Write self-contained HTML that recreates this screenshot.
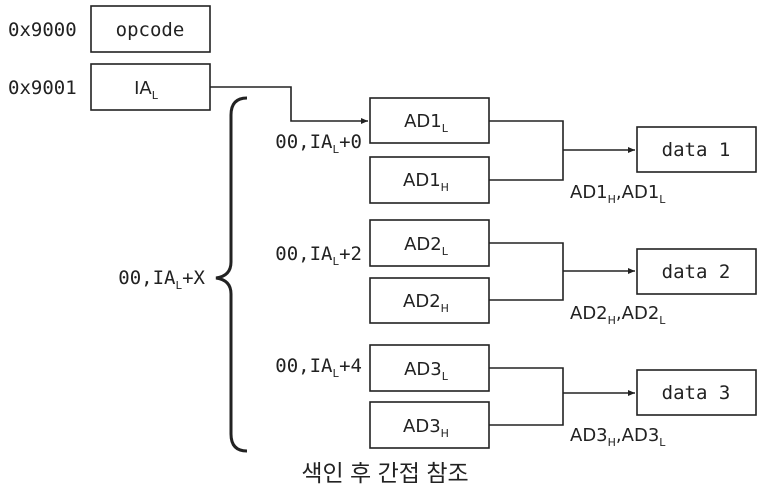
<!DOCTYPE html>
<html><head><meta charset="utf-8"><style>
html,body{margin:0;padding:0;background:#fff;}
svg{display:block}
.m{font-family:"DejaVu Sans Mono","Liberation Mono",monospace;font-size:19px;fill:#222}
.s{font-family:"DejaVu Sans","Liberation Sans",sans-serif;font-size:18px;fill:#222}
.sub{font-size:11px}
rect{fill:#fff;stroke:#222;stroke-width:1.6}
.l{fill:none;stroke:#222;stroke-width:1.6}
</style></head><body>
<svg width="766" height="499" viewBox="0 0 766 499">
<defs><marker id="a" markerWidth="8" markerHeight="8" refX="7" refY="4" orient="auto" markerUnits="userSpaceOnUse"><path d="M0,1 L7,4 L0,7z" fill="#222"/></marker></defs>
<text class="m" x="8" y="36">0x9000</text>
<text class="m" x="8" y="94">0x9001</text>
<rect x="91" y="6" width="119" height="46"/>
<text class="m" x="150" y="36" text-anchor="middle">opcode</text>
<rect x="91" y="64" width="119" height="46"/>
<text class="s" x="146" y="94" text-anchor="middle">IA<tspan class="sub" dy="5">L</tspan></text>
<path class="l" d="M210,87 H291 V121 H368" marker-end="url(#a)"/>
<path class="l" style="stroke-width:3" d="M247,98 Q231,98 231,115 V262 Q231,276 216,278 Q231,280 231,294 V434 Q231,451 247,451"/>
<text class="m" x="205" y="284" text-anchor="end">00,IA<tspan class="sub" dy="5">L</tspan><tspan dy="-5">+X</tspan></text>
<g>
<rect x="370" y="98" width="119" height="45"/><text class="s" x="426" y="127" text-anchor="middle">AD1<tspan class="sub" dy="5">L</tspan></text>
<rect x="370" y="157" width="119" height="46"/><text class="s" x="426" y="186" text-anchor="middle">AD1<tspan class="sub" dy="5">H</tspan></text>
<text class="m" x="362" y="148" text-anchor="end">00,IA<tspan class="sub" dy="5">L</tspan><tspan dy="-5">+0</tspan></text>
<path class="l" d="M489,121 H563 V180 H489 M563,150 H635" marker-end="url(#a)"/>
<rect x="637" y="127" width="119" height="45"/><text class="m" x="696" y="156" text-anchor="middle">data 1</text>
<text class="s" x="570" y="198">AD1<tspan class="sub" dy="5">H</tspan><tspan dy="-5">,AD1</tspan><tspan class="sub" dy="5">L</tspan></text>
</g>
<g>
<rect x="370" y="220" width="119" height="46"/><text class="s" x="426" y="250" text-anchor="middle">AD2<tspan class="sub" dy="5">L</tspan></text>
<rect x="370" y="278" width="119" height="45"/><text class="s" x="426" y="307" text-anchor="middle">AD2<tspan class="sub" dy="5">H</tspan></text>
<text class="m" x="362" y="260" text-anchor="end">00,IA<tspan class="sub" dy="5">L</tspan><tspan dy="-5">+2</tspan></text>
<path class="l" d="M489,243 H563 V300 H489 M563,271 H635" marker-end="url(#a)"/>
<rect x="637" y="249" width="119" height="45"/><text class="m" x="696" y="278" text-anchor="middle">data 2</text>
<text class="s" x="570" y="319">AD2<tspan class="sub" dy="5">H</tspan><tspan dy="-5">,AD2</tspan><tspan class="sub" dy="5">L</tspan></text>
</g>
<g>
<rect x="370" y="345" width="119" height="46"/><text class="s" x="426" y="375" text-anchor="middle">AD3<tspan class="sub" dy="5">L</tspan></text>
<rect x="370" y="402" width="119" height="46"/><text class="s" x="426" y="432" text-anchor="middle">AD3<tspan class="sub" dy="5">H</tspan></text>
<text class="m" x="362" y="372" text-anchor="end">00,IA<tspan class="sub" dy="5">L</tspan><tspan dy="-5">+4</tspan></text>
<path class="l" d="M489,368 H563 V425 H489 M563,393 H635" marker-end="url(#a)"/>
<rect x="637" y="370" width="119" height="45"/><text class="m" x="696" y="399" text-anchor="middle">data 3</text>
<text class="s" x="570" y="441">AD3<tspan class="sub" dy="5">H</tspan><tspan dy="-5">,AD3</tspan><tspan class="sub" dy="5">L</tspan></text>
</g>
<text x="385" y="481" text-anchor="middle" style="font-family:'Liberation Sans','Noto Sans CJK KR',sans-serif;font-size:23px;fill:#222">색인 후 간접 참조</text>
</svg>
</body></html>
